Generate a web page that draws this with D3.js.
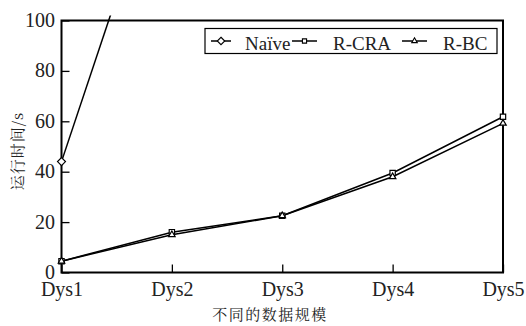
<!DOCTYPE html>
<html><head><meta charset="utf-8">
<script src="https://d3js.org/d3.v7.min.js"></script>
<style>body{margin:0;background:#fff}svg{display:block}</style>
</head><body>
<script>
const categories = ["Dys1","Dys2","Dys3","Dys4","Dys5"];
const naive = [44, 175];
const rcra = [4.5, 16, 22.5, 39.5, 61.8];
const rbc = [4.5, 15, 22.5, 38, 59.2];
const yTicks = [0,20,40,60,80,100];
const seriesNames = ["Naïve","R-CRA","R-BC"];

const W=526,H=326;
const L=61.5,R=503,T=20.5,B=272.5;
const SERIF='"Liberation Serif"';
const CJK='"Noto Serif CJK SC"';
const svg=d3.select("body").append("svg").attr("width",W).attr("height",H);
const x=d3.scalePoint().domain(categories).range([L,R]);
const y=d3.scaleLinear().domain([0,100]).range([B,T]);

svg.append("defs").append("clipPath").attr("id","c").append("rect")
  .attr("x",L-8).attr("y",T-5).attr("width",R-L+16).attr("height",B-T+14);

const yAxis=d3.axisLeft(y).tickValues(yTicks).tickSize(-8);
const gy=svg.append("g").attr("transform",`translate(${L},0)`).call(yAxis);
const xAxis=d3.axisBottom(x).tickSize(-8);
const gx=svg.append("g").attr("transform",`translate(0,${B})`).call(xAxis);
[gy,gx].forEach(g=>{
  g.attr("font-family",null).attr("font-size",null);
  g.select(".domain").remove();
  g.selectAll(".tick line").attr("stroke","#000").attr("stroke-width",1.3);
  g.selectAll("text").style("font-family",SERIF).style("font-size","20px").attr("fill","#222");
});
gy.selectAll("text").attr("dy","0.3em").attr("x",-6.5);
gx.selectAll("text").attr("dy","0.71em").attr("y",9.5);

svg.append("rect").attr("x",L).attr("y",T).attr("width",R-L).attr("height",B-T)
  .attr("fill","none").attr("stroke","#000").attr("stroke-width",2);

const line=d3.line().x((d,i)=>x(categories[i])).y(d=>y(d));
const plot=svg.append("g").attr("clip-path","url(#c)");
[naive,rcra,rbc].forEach(s=>{
  plot.append("path").datum(s).attr("d",line).attr("fill","none").attr("stroke","#000").attr("stroke-width",1.5);
});
const sym={diamond:d3.symbol().type(d3.symbolDiamond2).size(40),square:d3.symbol().type(d3.symbolSquare2).size(36),tri:d3.symbol().type(d3.symbolTriangle2).size(30)};
function markers(s,type){
  s.forEach((v,i)=>{
    if(y(v)<T-3) return;
    plot.append("path").attr("d",sym[type]()).attr("transform",`translate(${x(categories[i])},${y(v)})`)
      .attr("fill","#fff").attr("stroke","#000").attr("stroke-width",1.2);
  });
}
markers(rcra,"square");markers(rbc,"tri");markers(naive,"diamond");

const lg=svg.append("g");
lg.append("rect").attr("x",205).attr("y",28.5).attr("width",292).attr("height",25)
  .attr("fill","#fff").attr("stroke","#000").attr("stroke-width",1.2);
const items=[{n:seriesNames[0],t:"diamond",x0:211,x1:231,tx:245},{n:seriesNames[1],t:"square",x0:292,x1:317,tx:333},{n:seriesNames[2],t:"tri",x0:402,x1:427,tx:443}];
items.forEach(it=>{
  lg.append("line").attr("x1",it.x0).attr("x2",it.x1).attr("y1",41).attr("y2",41).attr("stroke","#000").attr("stroke-width",1.5);
  const s=d3.symbol().type(it.t==="diamond"?d3.symbolDiamond2:it.t==="square"?d3.symbolSquare2:d3.symbolTriangle2).size(it.t==="diamond"?36:22);
  lg.append("path").attr("d",s()).attr("transform",`translate(${(it.x0+it.x1)/2},41)`).attr("fill","#fff").attr("stroke","#000").attr("stroke-width",1.1);
  lg.append("text").attr("x",it.tx).attr("y",49.5).text(it.n).style("font-family",SERIF).style("font-size","19px").attr("fill","#222");
});

svg.append("text").attr("x",270).attr("y",320).attr("text-anchor","middle")
  .style("font-family",CJK).style("font-size","15px").attr("letter-spacing",1.5).attr("fill","#222").text("不同的数据规模");
svg.append("text").attr("transform","translate(23,151) rotate(-90)").attr("text-anchor","middle")
  .style("font-family",CJK).style("font-size","15px").attr("letter-spacing",1).attr("fill","#222").text("运行时间/s");
</script>
</body></html>
